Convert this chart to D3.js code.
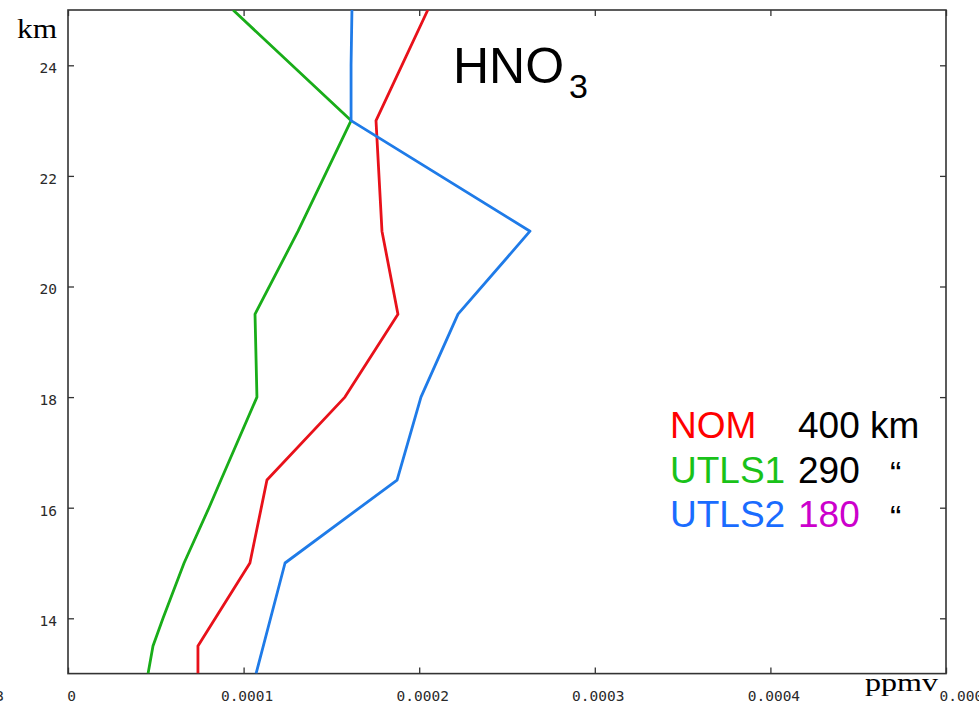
<!DOCTYPE html>
<html>
<head>
<meta charset="utf-8">
<script src="https://cdn.jsdelivr.net/npm/d3@7"></script>
<style>
  body { margin: 0; background: #fff; }
  svg { display: block; }
</style>
</head>
<body>
<div id="chart"></div>
<script>
// Canvas size
var svgWidth = 979;
var svgHeight = 708;

// plot frame
var frame = { left: 68, right: 946, top: 10, bottom: 673.6 };

// altitude levels (km) and HNO3 mixing ratio (ppmv) for each scenario
var nomKm   = [25, 23, 22, 21, 19.5, 18, 16.5, 15, 13.5, 13];
var nomVal  = [0.0002049, 0.0001754, 0.0001771, 0.0001788, 0.0001879, 0.0001577, 0.0001133, 0.0001036, 0.0000740, 0.0000740];

var utls1Km  = [25, 23, 21, 19.5, 18, 16.5, 16, 15, 14, 13.5, 13];
var utls1Val = [0.0000940, 0.0001612, 0.0001310, 0.0001065, 0.0001076, 0.0000871, 0.0000803, 0.0000661, 0.0000541, 0.0000484, 0.0000456];

var utls2Km  = [25, 24, 23, 21, 19.5, 18, 16.5, 15, 13];
var utls2Val = [0.0001617, 0.0001612, 0.0001612, 0.0002631, 0.0002221, 0.0002010, 0.0001874, 0.0001236, 0.0001071];

// axis ticks
var xTicks = [0, 0.0001, 0.0002, 0.0003, 0.0004, 0.0005];
var xTickLabels = ["0", "0.0001", "0.0002", "0.0003", "0.0004", "0.0005"];
var yTicks = [14, 16, 18, 20, 22, 24];

// legend rows
var legendNames  = ["NOM", "UTLS1", "UTLS2"];
var legendAlts   = ["400 km", "290", "180"];
var legendDitto  = ["", "\u201C", "\u201C"];

var lineColors  = ["#e8111a", "#19ad19", "#1f7be8"];
var nameColors  = ["#ff0000", "#19c219", "#1a6cff"];
var altColors   = ["#000000", "#000000", "#cc00cc"];

var svg = d3.select("#chart")
  .append("svg")
  .attr("width", svgWidth)
  .attr("height", svgHeight);

// scales
var xScale = d3.scaleLinear()
  .domain([0, 0.0005])
  .range([frame.left, frame.right]);

var yScale = d3.scaleLinear()
  .domain([13, 25])
  .range([frame.bottom, frame.top]);

// clip lines to the frame
svg.append("clipPath")
  .attr("id", "plotClip")
  .append("rect")
  .attr("x", frame.left)
  .attr("y", frame.top)
  .attr("width", frame.right - frame.left)
  .attr("height", frame.bottom - frame.top);

// axes, ticks point inwards
var tickFont = "'DejaVu Sans Mono', monospace";

var bottomAxis = d3.axisBottom(xScale).tickValues(xTicks).tickSize(-6).tickSizeOuter(0)
  .tickFormat((d, i) => xTickLabels[i]);
var topAxis = d3.axisTop(xScale).tickValues(xTicks).tickSize(-6).tickSizeOuter(0).tickFormat("");
var leftAxis = d3.axisLeft(yScale).tickValues(yTicks).tickSize(-6).tickSizeOuter(0);
var rightAxis = d3.axisRight(yScale).tickValues(yTicks).tickSize(-6).tickSizeOuter(0).tickFormat("");

var gBottom = svg.append("g")
  .attr("transform", `translate(0, ${frame.bottom})`)
  .call(bottomAxis);
gBottom.selectAll("text")
  .attr("y", 27)
  .attr("dy", 0)
  .attr("dx", 3)
  .style("font-family", tickFont)
  .style("font-size", "14.5px")
  .style("fill", "#2a2a2a");
// last label is pushed right in the original
gBottom.selectAll(".tick text")
  .filter((d, i) => i === xTicks.length - 1)
  .attr("text-anchor", "start")
  .attr("dx", -7);

svg.append("g")
  .attr("transform", `translate(0, ${frame.top})`)
  .call(topAxis);

var gLeft = svg.append("g")
  .attr("transform", `translate(${frame.left}, 0)`)
  .call(leftAxis);
gLeft.selectAll("text")
  .attr("x", -11)
  .attr("dy", 7.4)
  .style("font-family", tickFont)
  .style("font-size", "14.5px")
  .style("fill", "#2a2a2a");

svg.append("g")
  .attr("transform", `translate(${frame.right}, 0)`)
  .call(rightAxis);

svg.selectAll(".domain").remove();
svg.selectAll(".tick line").attr("stroke", "#333").attr("stroke-width", 1.3);

// frame box
svg.append("rect")
  .attr("x", frame.left)
  .attr("y", frame.top)
  .attr("width", frame.right - frame.left)
  .attr("height", frame.bottom - frame.top)
  .attr("fill", "none")
  .attr("stroke", "#333")
  .attr("stroke-width", 1.6);

// profile lines
var line = d3.line()
  .x(d => xScale(d[1]))
  .y(d => yScale(d[0]));

var series = [
  d3.zip(nomKm, nomVal),
  d3.zip(utls1Km, utls1Val),
  d3.zip(utls2Km, utls2Val)
];

svg.append("g")
  .attr("clip-path", "url(#plotClip)")
  .selectAll("path")
  .data(series)
  .enter()
  .append("path")
  .attr("d", line)
  .attr("fill", "none")
  .attr("stroke", (d, i) => lineColors[i])
  .attr("stroke-width", 2.8)
  .attr("stroke-linejoin", "round");

// clipped label fragment at the far left edge
svg.append("text")
  .attr("x", 4)
  .attr("y", frame.bottom + 27)
  .attr("text-anchor", "end")
  .style("font-family", tickFont)
  .style("font-size", "14.5px")
  .style("fill", "#2a2a2a")
  .text("3");

// axis unit labels (serif, a bit stretched)
svg.append("text")
  .attr("x", 17)
  .attr("y", 38)
  .attr("textLength", 40)
  .attr("lengthAdjust", "spacingAndGlyphs")
  .style("font-family", "'Liberation Serif', 'Times New Roman', serif")
  .style("font-size", "27px")
  .text("km");

svg.append("rect")
  .attr("x", 862)
  .attr("y", 677)
  .attr("width", 77)
  .attr("height", 31)
  .attr("fill", "#fff");
svg.append("text")
  .attr("x", 865)
  .attr("y", 691)
  .attr("textLength", 73)
  .attr("lengthAdjust", "spacingAndGlyphs")
  .style("font-family", "'Liberation Serif', 'Times New Roman', serif")
  .style("font-size", "25px")
  .text("ppmv");

// title
var title = svg.append("text")
  .attr("x", 453)
  .attr("y", 83)
  .style("font-family", "'Liberation Sans', Arial, sans-serif")
  .style("font-size", "50px")
  .style("fill", "#000");
title.append("tspan").text("HNO");
title.append("tspan")
  .attr("dx", 5)
  .attr("dy", 15)
  .style("font-size", "34px")
  .text("3");

// legend
var legend = svg.append("g")
  .style("font-family", "'Liberation Sans', Arial, sans-serif")
  .style("font-size", "37px");

legend.selectAll("text.name")
  .data(legendNames)
  .enter()
  .append("text")
  .attr("class", "name")
  .attr("x", 670)
  .attr("y", (d, i) => 438 + i * 44.6)
  .style("fill", (d, i) => nameColors[i])
  .text(d => d);

legend.selectAll("text.alt")
  .data(legendAlts)
  .enter()
  .append("text")
  .attr("class", "alt")
  .attr("x", 798)
  .attr("y", (d, i) => 438 + i * 44.6)
  .style("fill", (d, i) => altColors[i])
  .text(d => d);

legend.selectAll("text.ditto")
  .data(legendDitto)
  .enter()
  .append("text")
  .attr("class", "ditto")
  .attr("x", 890)
  .attr("y", (d, i) => 440 + i * 44.6)
  .style("fill", "#000")
  .style("font-size", "34px")
  .text(d => d);
</script>
</body>
</html>
